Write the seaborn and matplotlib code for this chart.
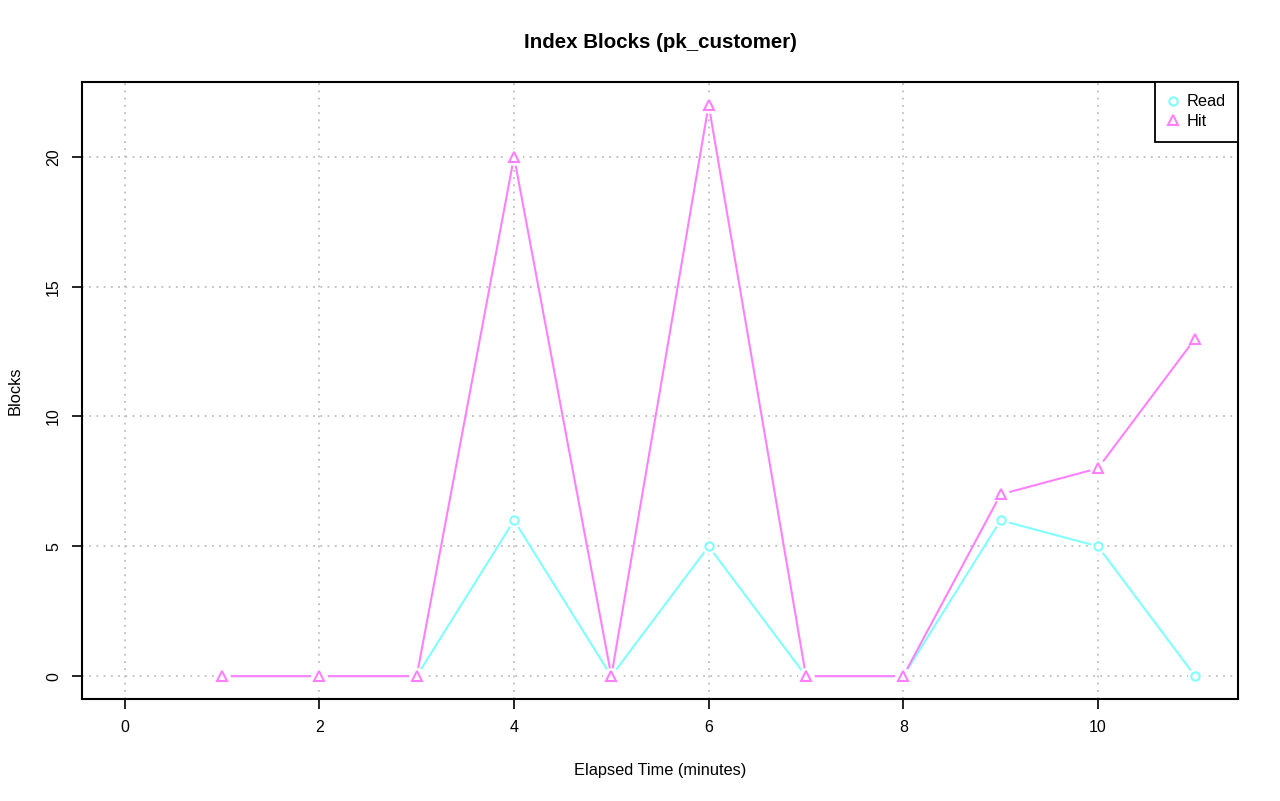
import matplotlib
matplotlib.use('Agg')
import matplotlib.pyplot as plt
import seaborn as sns
import pandas as pd

minutes = [1, 2, 3, 4, 5, 6, 7, 8, 9, 10, 11]
read_blocks = [0, 0, 0, 6, 0, 5, 0, 0, 6, 5, 0]
hit_blocks = [0, 0, 0, 20, 0, 22, 0, 0, 7, 8, 13]

frame = pd.DataFrame({'minute': minutes, 'Read': read_blocks, 'Hit': hit_blocks})

sns.set_style('white')
plt.rcParams['font.family'] = ['Liberation Sans', 'DejaVu Sans']
for key in ['text.color', 'axes.labelcolor', 'xtick.color', 'ytick.color']:
    plt.rcParams[key] = 'black'

fig = plt.figure(figsize=(12.8, 8.01), dpi=100)
ax = fig.add_axes([82 / 1280, 1 - 699 / 801, (1238 - 82) / 1280, (699 - 82) / 801])

ax.grid(True, color='#bebebe', linestyle=(0, (1, 3)), linewidth=1.3)
ax.set_axisbelow(True)

series = [('Read', '#80ffff', 'o', 6), ('Hit', '#ff80ff', '^', 7)]
for name, col, mk, ms in series:
    sns.lineplot(data=frame, x='minute', y=name, color=col, linewidth=1.5, ax=ax,
                 legend=False)
    # white pads make the little gaps R leaves around points with type="b"
    ax.plot(frame['minute'], frame[name], linestyle='none', marker='o',
            markersize=ms + 4, markerfacecolor='white', markeredgecolor='white')
    ax.plot(frame['minute'], frame[name], linestyle='none', marker=mk,
            markersize=ms, markerfacecolor='none', markeredgecolor=col,
            markeredgewidth=1.5, label=name)

ax.set_xlim(-0.44, 11.44)
ax.set_ylim(-0.88, 22.88)
ax.set_xticks([0, 2, 4, 6, 8, 10])
ax.set_yticks([0, 5, 10, 15, 20])
ax.tick_params(axis='both', direction='out', length=7, width=1.2, labelsize=11.5,
               color='black', pad=8, bottom=True, left=True)
for lab in ax.get_yticklabels():
    lab.set_rotation(90)
    lab.set_va('center')
for sp in ax.spines.values():
    sp.set_visible(True)
    sp.set_color('black')
    sp.set_linewidth(1.5)

ax.set_xlabel('Elapsed Time (minutes)', fontsize=11.8, labelpad=20)
ax.set_ylabel('Blocks', fontsize=11.8, labelpad=17)
fig.text(660 / 1280, 1 - 43 / 801, 'Index Blocks (pk_customer)', ha='center', va='center',
         fontsize=14.8, fontweight='bold')

handles, labels = ax.get_legend_handles_labels()
leg = ax.legend(handles, labels, loc='upper right', borderaxespad=0, fancybox=False,
                edgecolor='black', fontsize=11.8, handlelength=0.6, handletextpad=0.55,
                borderpad=0.75, labelspacing=0.3, framealpha=1, markerscale=1.0)
leg.get_frame().set_linewidth(1.3)

fig.savefig('out.png', dpi=100)
